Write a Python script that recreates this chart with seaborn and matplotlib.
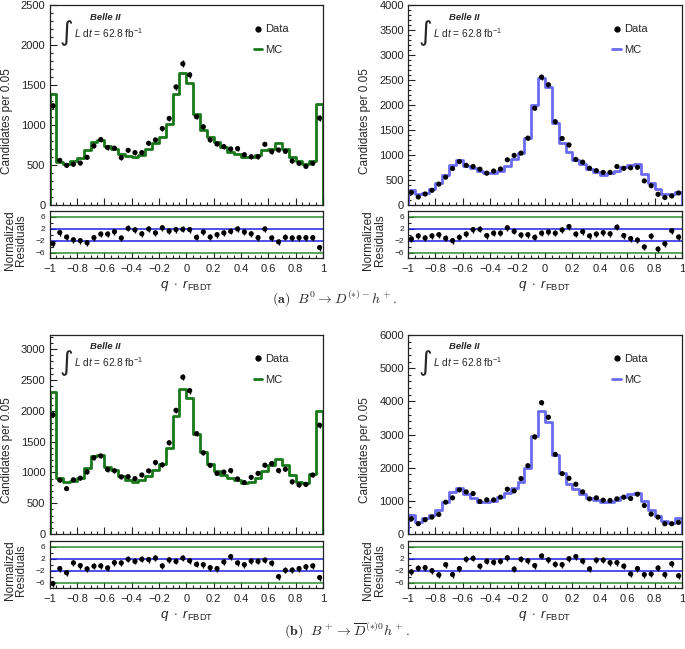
import numpy as np
import pandas as pd
import matplotlib
matplotlib.use("Agg")
import matplotlib.pyplot as plt
import seaborn as sns
from matplotlib.ticker import MultipleLocator, FixedLocator, FuncFormatter
from matplotlib.lines import Line2D

# ---------------- data ----------------
x_range = (-1.0, 1.0)
n_bins = 40

a0_data = [1240, 558, 496, 509, 525, 596, 739, 818, 718, 710, 592, 684, 655, 655, 772, 814, 956, 1082, 1476, 1765,
           1627, 1103, 977, 814, 763, 730, 701, 705, 629, 604, 604, 759, 667, 688, 671, 550, 521, 483, 521, 1086]
a0_mc = [1385, 532, 510, 545, 587, 689, 782, 815, 739, 697, 642, 613, 600, 629, 705, 777, 853, 1014, 1384, 1645,
         1520, 1140, 938, 853, 790, 727, 663, 642, 600, 600, 629, 684, 701, 777, 705, 600, 545, 515, 549, 1265]
a0_res = [-2.9, 0.8, -0.7, -1.6, -1.9, -2.6, -0.9, 0.3, 0.3, 1.1, -1.0, 2.2, 1.7, 0.4, 2.0, 0.7, 2.4, 1.3, 1.8, 1.9,
          1.8, -0.8, 1.0, -0.7, 0.1, 0.7, 1.2, 2.0, 1.0, 0.4, -0.9, 2.0, -1.0, -2.3, -0.8, -1.0, -0.9, -0.9, -0.9, -4.2]

a1_data = [250, 160, 220, 294, 418, 556, 730, 868, 794, 770, 716, 636, 680, 720, 904, 992, 1038, 1337, 1935, 2559,
           2405, 1667, 1330, 1202, 911, 857, 736, 686, 652, 652, 770, 734, 744, 754, 482, 385, 214, 150, 180, 240]
a1_mc = [296, 215, 248, 315, 450, 597, 799, 899, 790, 738, 685, 638, 638, 685, 785, 919, 1034, 1350, 2000, 2537,
         2355, 1636, 1250, 1070, 900, 815, 725, 652, 610, 632, 676, 760, 793, 813, 625, 435, 313, 213, 213, 263]
a1_res = [-1.3, -0.3, -1.0, -0.3, 0.1, -1.1, -1.9, -0.8, 0.3, 1.8, 1.9, -0.2, 0.6, 0.6, 2.4, 1.2, 0.0, 0.1, -0.8, 0.6,
          1.0, 0.6, 1.7, 2.8, 0.3, 1.1, -0.3, 0.3, 0.8, 0.4, 2.6, -0.2, -1.2, -1.7, -4.0, -0.4, -4.7, -2.9, 1.4, -0.7]

b0_data = [1935, 875, 736, 880, 907, 1008, 1238, 1268, 1046, 1027, 928, 931, 899, 958, 1025, 1161, 1123, 1481, 2008, 2546,
           2327, 1628, 1318, 1115, 982, 1006, 1030, 894, 835, 920, 984, 1117, 1145, 1030, 1051, 848, 797, 805, 958, 1767]
b0_mc = [2305, 913, 839, 855, 913, 1068, 1261, 1282, 1095, 1031, 935, 871, 844, 871, 935, 1031, 1138, 1389, 1918, 2348,
         2215, 1619, 1325, 1138, 1020, 951, 913, 871, 833, 844, 913, 1020, 1122, 1218, 1127, 951, 844, 828, 978, 1995]
b0_res = [-6.2, -1.2, -2.6, 0.7, -0.2, -1.3, -0.4, -0.3, -1.0, 0.8, 0.7, 1.9, 1.2, 1.9, 1.8, 2.3, -0.3, 1.7, 1.2, 2.3,
          1.4, 0.2, 0.1, -0.9, -1.2, 1.0, 2.8, 0.7, 0.1, 1.3, 1.2, 1.6, 0.6, -3.9, -1.8, -1.7, -1.2, -0.6, -0.3, -4.2]

b1_data = [460, 310, 430, 510, 590, 960, 1090, 1330, 1270, 1220, 980, 1030, 1030, 1110, 1350, 1300, 1670, 2060, 2930, 3960,
           3520, 2400, 1820, 1680, 1500, 1270, 1060, 1090, 1020, 1010, 1060, 1110, 1070, 1200, 860, 600, 510, 310, 310, 350]
b1_mc = [580, 360, 470, 580, 730, 970, 1260, 1400, 1200, 1100, 970, 960, 1000, 1120, 1230, 1400, 1580, 1980, 2950, 3700,
         3380, 2370, 1830, 1520, 1350, 1220, 1100, 1020, 950, 970, 1020, 1130, 1220, 1240, 1000, 720, 530, 400, 320, 480]
b1_res = [-2.3, -1.1, -0.9, -1.9, -3.3, 0.1, -3.2, -1.2, 1.9, 2.2, -0.4, 1.2, 0.9, 1.2, 2.4, -1.4, 1.9, 1.4, -0.2, 3.0,
          1.7, 0.2, 0.1, 2.1, 2.8, 1.3, -1.3, 1.6, 1.6, 0.8, 0.8, -0.4, -3.0, -1.2, -3.2, -3.0, -1.0, -3.2, 0.4, -3.6]

res_lines_outer = [-6, 6]
res_lines_inner = [-2, 2]
res_ticks = [-6, -2, 2, 6]

# ---------------- style ----------------
sns.set_theme(style="ticks")
plt.rcParams["font.family"] = ["Liberation Sans", "DejaVu Sans"]
plt.rcParams["mathtext.fontset"] = "custom"
plt.rcParams["mathtext.rm"] = "Liberation Sans"
plt.rcParams["mathtext.it"] = "Liberation Sans:italic"
plt.rcParams["mathtext.bf"] = "Liberation Sans:bold"
plt.rcParams["axes.linewidth"] = 0.9
plt.rcParams["axes.edgecolor"] = "#222222"

GREEN = "#18781a"
BLUE = "#6b6bf2"
LINE_GREEN = "#2d8c2d"
LINE_BLUE = "#2020e6"

bin_width = (x_range[1] - x_range[0]) / n_bins
edges = np.linspace(x_range[0], x_range[1], n_bins + 1)
centers = 0.5 * (edges[:-1] + edges[1:])

W, H = 685, 649
fig = plt.figure(figsize=(W / 100, H / 100), dpi=100)


def fx(px):
    return px / W


def fy(px):
    return 1 - px / H


def xfmt(v, _):
    if abs(v) < 1e-9:
        return "0"
    if abs(abs(v) - 1) < 1e-9:
        return "\u22121" if v < 0 else "1"
    s = f"{v:.1f}"
    return s.replace("-", "\u2212")


def panel(left, right, top, bottom, rtop, rbottom, data, mc, res, color, ymax, ymaj, ymin):
    ax = fig.add_axes([fx(left), fy(bottom), fx(right - left), (bottom - top) / H])
    df = pd.DataFrame({"x": centers, "mc": np.asarray(mc, float)})
    sns.histplot(data=df, x="x", weights="mc", binwidth=bin_width, binrange=x_range, element="step",
                 fill=False, color=color, linewidth=2.0, ax=ax, zorder=2)
    ax.vlines([edges[0], edges[-1]], 0, [mc[0], mc[-1]], color=color, linewidth=2.0, zorder=2)
    data = np.asarray(data, float)
    ax.errorbar(centers, data, yerr=np.sqrt(data), fmt="none", ecolor="black", elinewidth=1.0, zorder=3)
    sns.scatterplot(x=centers, y=data, color="black", s=14, edgecolor="none", ax=ax, zorder=4)
    ax.set_xlim(*x_range)
    ax.set_ylim(0, ymax)
    ax.set_xlabel("")
    ax.set_ylabel("Candidates per 0.05", fontsize=8.5)
    ax.yaxis.set_label_coords(-0.135, 0.42)
    ax.xaxis.set_major_locator(MultipleLocator(0.2))
    ax.xaxis.set_minor_locator(MultipleLocator(0.05))
    ax.yaxis.set_major_locator(MultipleLocator(ymaj))
    ax.yaxis.set_minor_locator(MultipleLocator(ymin))
    ax.tick_params(which="both", direction="in", top=False, right=False, labelbottom=False,
                   labelsize=8, pad=3, colors="#222222")
    ax.tick_params(which="major", length=5, width=0.8)
    ax.tick_params(which="minor", length=2.5, width=0.8)

    # annotations
    ax.text(0.205, 0.94, "Belle II", transform=ax.transAxes, fontsize=6.8, fontweight="bold",
            fontstyle="italic", ha="center", va="center")
    ax.text(0.062, 0.86, "\u222B", transform=ax.transAxes, fontsize=19, ha="center", va="center",
            family=["DejaVu Sans"])
    ax.text(0.09, 0.862, r"$L$ d$t$ = 62.8 fb$^{\mathregular{-1}}$", transform=ax.transAxes,
            fontsize=7.3, ha="left", va="center")
    handles = [Line2D([], [], marker="o", ls="", color="black", markersize=3.5),
               Line2D([], [], color=color, lw=2.0)]
    ax.legend(handles, ["Data", "MC"], loc="upper left", bbox_to_anchor=(0.73, 0.925), frameon=False,
              fontsize=8, handlelength=0.8, handletextpad=0.25, labelspacing=0.95, borderaxespad=0)

    rx = fig.add_axes([fx(left), fy(rbottom), fx(right - left), (rbottom - rtop) / H])
    for v in res_lines_outer:
        rx.axhline(v, color=LINE_GREEN, lw=1.1, zorder=1)
    for v in res_lines_inner:
        rx.axhline(v, color=LINE_BLUE, lw=1.1, zorder=1)
    rx.errorbar(centers, res, yerr=1.0, fmt="none", ecolor="black", elinewidth=1.0, zorder=3)
    sns.scatterplot(x=centers, y=res, color="black", s=14, edgecolor="none", ax=rx, zorder=4)
    rx.set_xlim(*x_range)
    rx.set_ylim(-7.7, 8.0)
    rx.yaxis.set_major_locator(FixedLocator(res_ticks))
    rx.yaxis.set_minor_locator(MultipleLocator(2))
    rx.xaxis.set_major_locator(MultipleLocator(0.2))
    rx.xaxis.set_minor_locator(MultipleLocator(0.05))
    rx.xaxis.set_major_formatter(FuncFormatter(xfmt))
    rx.tick_params(which="both", direction="in", top=False, right=False, colors="#222222")
    rx.tick_params(axis="y", labelsize=6, pad=3)
    rx.tick_params(axis="x", labelsize=8, pad=4)
    rx.tick_params(which="major", length=4, width=0.8)
    rx.tick_params(which="minor", length=2.5, width=0.8)
    rx.set_ylabel("Normalized\nResiduals", fontsize=8.5, linespacing=0.95)
    rx.yaxis.set_label_coords(-0.082, 0.38)
    rx.set_xlabel(r"$q\ \cdot\ r_{\mathregular{FBDT}}$", fontsize=9.5)
    rx.xaxis.set_label_coords(0.5, -0.42)
    return ax, rx


panel(49.5, 323, 5, 205, 211, 258, a0_data, a0_mc, a0_res, GREEN, 2500, 500, 100)
panel(408, 682, 5, 205, 211, 258, a1_data, a1_mc, a1_res, BLUE, 4000, 500, 100)
panel(49.5, 323, 335, 534, 541, 588, b0_data, b0_mc, b0_res, GREEN, 3230, 500, 100)
panel(408, 682, 335, 534, 541, 588, b1_data, b1_mc, b1_res, BLUE, 6000, 1000, 200)

fig.text(0.489, fy(298), r"$\mathbf{(a)}\ \ B^0 \rightarrow D^{(*)-}h^+.$", ha="center", va="center",
         fontsize=10, math_fontfamily="cm")
fig.text(0.507, fy(630), r"$\mathbf{(b)}\ \ B^+ \rightarrow \overline{D}^{(*)0}h^+.$", ha="center", va="center",
         fontsize=10, math_fontfamily="cm")

fig.savefig("out.png", dpi=100, facecolor="white")
